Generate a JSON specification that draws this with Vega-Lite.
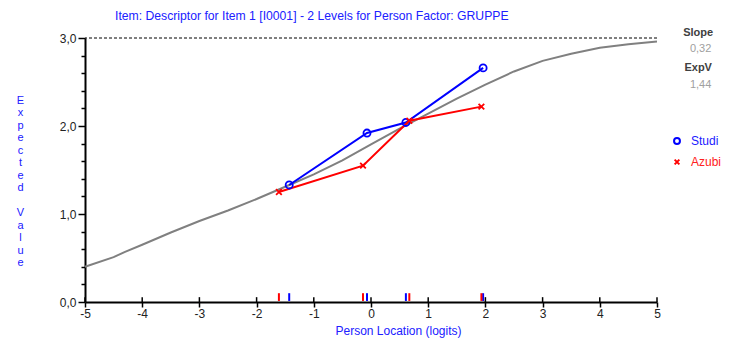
{
  "$schema": "https://vega.github.io/schema/vega-lite/v6.json",
  "autosize": {"type": "none"},
  "width": 572,
  "height": 264,
  "padding": {"left": 85, "top": 38, "right": 76, "bottom": 37},
  "background": "white",
  "title": {
    "text": "Item: Descriptor for Item 1 [I0001] - 2 Levels for Person Factor: GRUPPE",
    "anchor": "start",
    "frame": "group",
    "dx": 30,
    "offset": 5,
    "font": "Liberation Sans, sans-serif",
    "fontSize": 12.2,
    "fontWeight": "normal",
    "color": "#2020ff"
  },
  "config": {
    "view": {"stroke": null},
    "font": "Liberation Sans, sans-serif",
    "axis": {"grid": false}
  },
  "resolve": {"axis": {"y": "independent"}},
  "datasets": {
    "curve": [
      {"loc": -5.0, "ev": 0.40}, {"loc": -4.5, "ev": 0.51}, {"loc": -4.3, "ev": 0.57},
      {"loc": -4.0, "ev": 0.65}, {"loc": -3.5, "ev": 0.79}, {"loc": -3.0, "ev": 0.92},
      {"loc": -2.5, "ev": 1.04}, {"loc": -2.0, "ev": 1.17}, {"loc": -1.5, "ev": 1.31},
      {"loc": -1.0, "ev": 1.45}, {"loc": -0.5, "ev": 1.61}, {"loc": 0.0, "ev": 1.79},
      {"loc": 0.5, "ev": 1.97}, {"loc": 1.0, "ev": 2.14}, {"loc": 1.5, "ev": 2.31},
      {"loc": 2.0, "ev": 2.47}, {"loc": 2.5, "ev": 2.62}, {"loc": 3.0, "ev": 2.74},
      {"loc": 3.5, "ev": 2.82}, {"loc": 4.0, "ev": 2.89}, {"loc": 4.5, "ev": 2.93},
      {"loc": 5.0, "ev": 2.96}
    ],
    "obs": [
      {"group": "Studi", "loc": -1.43, "ev": 1.33},
      {"group": "Studi", "loc": -0.07, "ev": 1.92},
      {"group": "Studi", "loc": 0.61, "ev": 2.04},
      {"group": "Studi", "loc": 1.96, "ev": 2.66},
      {"group": "Azubi", "loc": -1.61, "ev": 1.25},
      {"group": "Azubi", "loc": -0.14, "ev": 1.55},
      {"group": "Azubi", "loc": 0.67, "ev": 2.06},
      {"group": "Azubi", "loc": 1.93, "ev": 2.22}
    ],
    "stats": [
      {"name": "Slope", "value": "0,32"},
      {"name": "ExpV", "value": "1,44"}
    ]
  },
  "layer": [
    {
      "data": {"name": "curve"},
      "mark": {"type": "line", "color": "#808080", "strokeWidth": 2},
      "encoding": {
        "x": {
          "field": "loc", "type": "quantitative",
          "scale": {"domain": [-5, 5], "nice": false, "zero": false},
          "axis": {
            "values": [-5, -4, -3, -2, -1, 0, 1, 2, 3, 4, 5],
            "labelExpr": "datum.value < 0 ? '-' + abs(datum.value) : '' + datum.value",
            "title": "Person Location (logits)",
            "titleColor": "#2020ff",
            "titleFont": "Liberation Sans, sans-serif",
            "titleFontSize": 12,
            "titleFontWeight": "normal",
            "titleX": 313,
            "titleY": 28,
            "titleBaseline": "middle",
            "domainColor": "#000000",
            "domainWidth": 2,
            "tickColor": "#000000",
            "tickWidth": 1.5,
            "tickSize": 5,
            "labelColor": "#222222",
            "labelFontSize": 12,
            "labelPadding": 1,
            "labelFlush": false
          }
        },
        "y": {
          "field": "ev", "type": "quantitative",
          "scale": {"domain": [0, 3], "nice": false, "zero": false},
          "axis": {
            "orient": "left",
            "values": [0, 1, 2, 3],
            "labelExpr": "replace(format(datum.value, '.1f'), '.', ',')",
            "title": ["E", "x", "p", "e", "c", "t", "e", "d"],
            "titleAngle": 0,
            "titleColor": "#2020ff",
            "titleFont": "Liberation Sans, sans-serif",
            "titleFontSize": 11,
            "titleFontWeight": "normal",
            "titleLineHeight": 12.5,
            "titleX": -65,
            "titleY": 62,
            "titleAlign": "center",
            "titleBaseline": "middle",
            "domainColor": "#000000",
            "domainWidth": 2,
            "tickColor": "#000000",
            "tickWidth": 1.5,
            "tickSize": 7,
            "labelColor": "#222222",
            "labelFontSize": 12,
            "labelPadding": 2
          }
        }
      }
    },
    {
      "data": {"name": "stats"},
      "transform": [{"filter": "datum.name == 'Slope'"}],
      "mark": {"type": "rule", "color": "#000000", "strokeDash": [3, 2], "strokeWidth": 1},
      "encoding": {
        "y": {
          "datum": 3, "type": "quantitative",
          "axis": {
            "orient": "left",
            "values": [0.2, 0.4, 0.6, 0.8, 1.2, 1.4, 1.6, 1.8, 2.2, 2.4, 2.6, 2.8],
            "labels": false,
            "domain": false,
            "title": ["V", "a", "l", "u", "e"],
            "titleAngle": 0,
            "titleColor": "#2020ff",
            "titleFont": "Liberation Sans, sans-serif",
            "titleFontSize": 11,
            "titleFontWeight": "normal",
            "titleLineHeight": 12.5,
            "titleX": -65,
            "titleY": 174.5,
            "titleAlign": "center",
            "titleBaseline": "middle",
            "tickColor": "#000000",
            "tickWidth": 1.5,
            "tickSize": 4
          }
        }
      }
    },
    {
      "data": {"name": "curve"},
      "transform": [{"filter": "datum.loc == floor(datum.loc)"}],
      "mark": {"type": "rule", "color": "#000000", "strokeWidth": 1.5},
      "encoding": {
        "x": {"field": "loc", "type": "quantitative"},
        "y": {"datum": 0, "type": "quantitative", "axis": null},
        "y2": {"datum": 0.055}
      }
    },
    {
      "data": {"name": "obs"},
      "mark": {"type": "line", "strokeWidth": 2},
      "encoding": {
        "x": {"field": "loc", "type": "quantitative"},
        "y": {"field": "ev", "type": "quantitative", "axis": null},
        "color": {
          "field": "group", "type": "nominal",
          "scale": {"domain": ["Studi", "Azubi"], "range": ["#0000ff", "#ff0000"]}
        },
        "detail": {"field": "group"}
      }
    },
    {
      "data": {"name": "obs"},
      "mark": {"type": "point", "filled": false, "strokeWidth": 1.8, "size": 50, "opacity": 1},
      "encoding": {
        "x": {"field": "loc", "type": "quantitative"},
        "y": {"field": "ev", "type": "quantitative", "axis": null},
        "color": {
          "field": "group", "type": "nominal",
          "scale": {"domain": ["Studi", "Azubi"], "range": ["#0000ff", "#ff0000"]},
          "legend": {
            "title": null,
            "orient": "none",
            "legendX": 586,
            "legendY": 97,
            "symbolStrokeWidth": 2,
            "symbolSize": 35,
            "rowPadding": 7,
            "labelFontSize": 12,
            "labelOffset": 8,
            "labelFont": "Liberation Sans, sans-serif",
            "labelColor": {"expr": "datum.label == 'Studi' ? '#2020ff' : '#ff2020'"}
          }
        },
        "shape": {
          "field": "group", "type": "nominal",
          "scale": {"domain": ["Studi", "Azubi"], "range": ["circle", "M-0.8,-0.8L0.8,0.8M0.8,-0.8L-0.8,0.8"]}
        }
      }
    },
    {
      "data": {"name": "obs"},
      "mark": {"type": "rule", "strokeWidth": 2},
      "encoding": {
        "x": {"field": "loc", "type": "quantitative"},
        "y": {"datum": 0.012, "type": "quantitative", "axis": null},
        "y2": {"datum": 0.1},
        "color": {"field": "group", "type": "nominal"}
      }
    },
    {
      "data": {"name": "stats"},
      "transform": [{"filter": "datum.name == 'Slope'"}],
      "mark": {"type": "text", "fontSize": 11, "fontWeight": "bold", "color": "#404040", "align": "center", "baseline": "middle", "font": "Liberation Sans, sans-serif"},
      "encoding": {"text": {"field": "name"}, "x": {"datum": 5.72}, "y": {"datum": 3.06, "type": "quantitative", "axis": null}}
    },
    {
      "data": {"name": "stats"},
      "transform": [{"filter": "datum.name == 'Slope'"}],
      "mark": {"type": "text", "fontSize": 11, "color": "#a0a0a0", "align": "right", "baseline": "middle", "font": "Liberation Sans, sans-serif"},
      "encoding": {"text": {"field": "value"}, "x": {"datum": 5.95}, "y": {"datum": 2.87, "type": "quantitative", "axis": null}}
    },
    {
      "data": {"name": "stats"},
      "transform": [{"filter": "datum.name == 'ExpV'"}],
      "mark": {"type": "text", "fontSize": 11, "fontWeight": "bold", "color": "#404040", "align": "center", "baseline": "middle", "font": "Liberation Sans, sans-serif"},
      "encoding": {"text": {"field": "name"}, "x": {"datum": 5.72}, "y": {"datum": 2.66, "type": "quantitative", "axis": null}}
    },
    {
      "data": {"name": "stats"},
      "transform": [{"filter": "datum.name == 'ExpV'"}],
      "mark": {"type": "text", "fontSize": 11, "color": "#a0a0a0", "align": "right", "baseline": "middle", "font": "Liberation Sans, sans-serif"},
      "encoding": {"text": {"field": "value"}, "x": {"datum": 5.95}, "y": {"datum": 2.47, "type": "quantitative", "axis": null}}
    }
  ]
}
